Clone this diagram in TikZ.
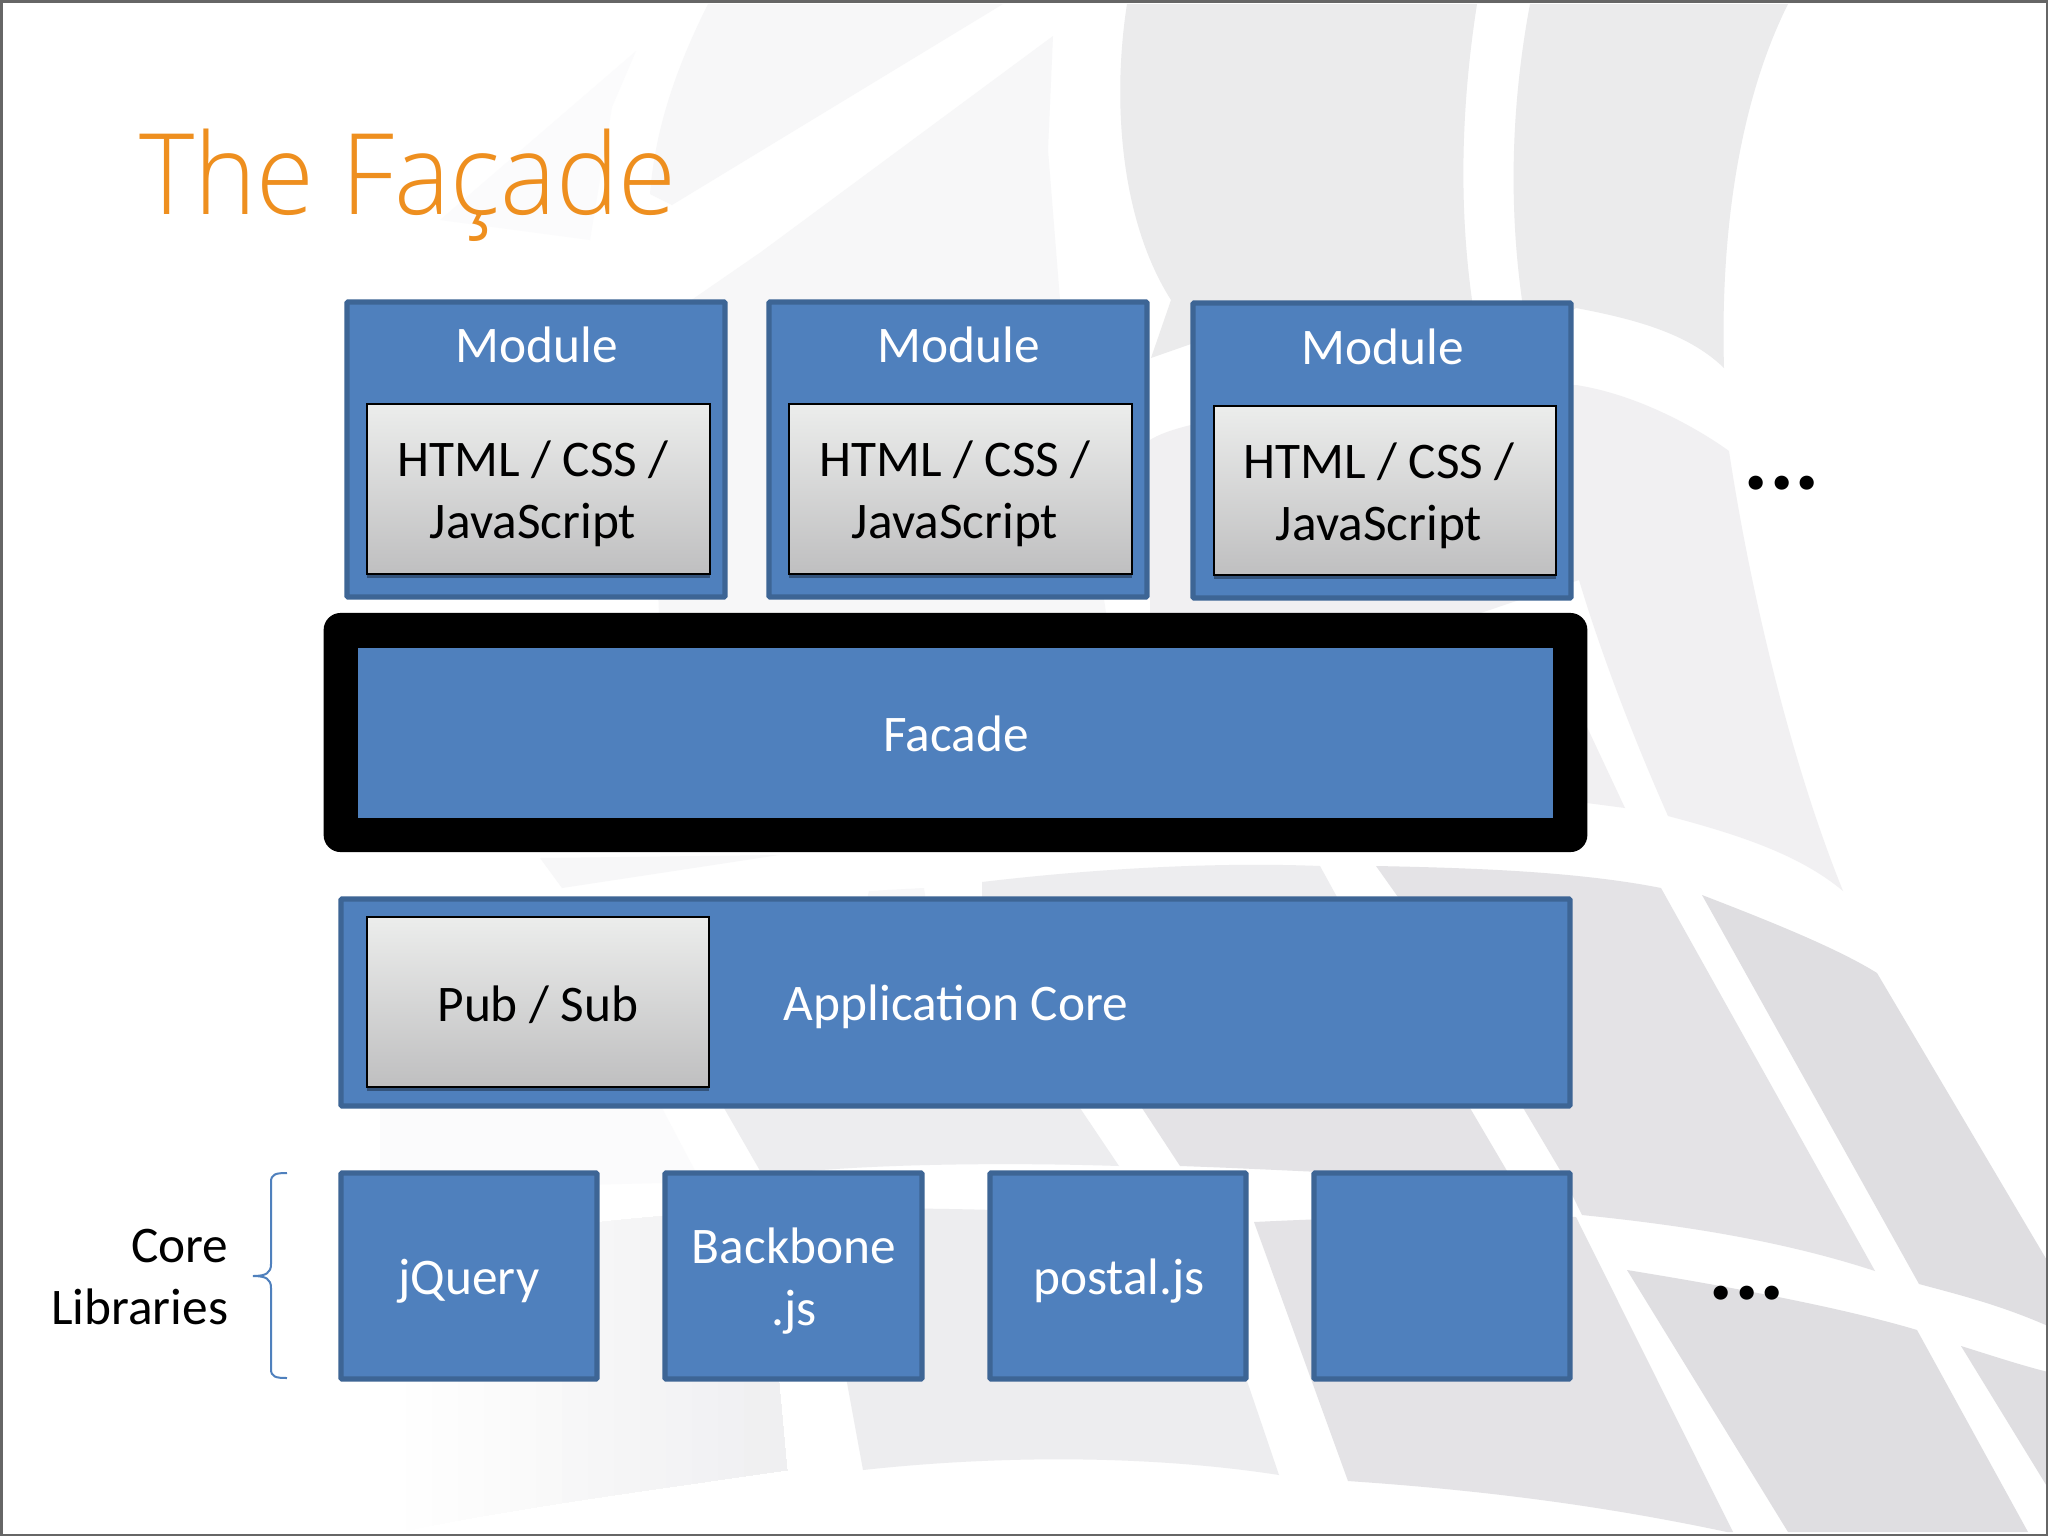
\documentclass[tikz,border=0pt]{standalone}
\usepackage{fontspec}
\setmainfont{Carlito}
\newfontfamily\titlefont{Open Sans Light}
\usetikzlibrary{shadows}
\definecolor{boxblue}{HTML}{4F80BD}
\definecolor{boxedge}{HTML}{3D6595}
\definecolor{titleorange}{HTML}{EE8F1F}
\definecolor{bgA}{HTML}{EBEBEC}
\definecolor{bgB}{HTML}{F1F0F2}
\definecolor{bgC}{HTML}{F7F7F8}
\definecolor{bgD}{HTML}{E4E3E6}
\definecolor{bgE}{HTML}{DFDEE1}
\definecolor{bgF}{HTML}{EDEDEF}
\definecolor{bgG}{HTML}{FBFBFC}
\definecolor{greytop}{HTML}{ECEDEC}
\definecolor{greybot}{HTML}{BFBFC0}
\newcommand{\pxbox}[6]{%
  \node[#1, minimum width={(#4-#2-4)*0.01cm}, minimum height={(#5-#3-4)*0.01cm}] (#6) at ({(#2+#4)/2},{(#3+#5)/2}) {};}
\tikzset{
  bluebox/.style={rectangle, inner sep=0pt, outer sep=0pt, fill=boxblue, draw=boxedge, line width=0.052cm, rounded corners=0.01cm},
  greybox/.style={rectangle, inner sep=0pt, outer sep=0pt, top color=greytop, bottom color=greybot, draw=black, line width=0.025cm,
    drop shadow={shadow xshift=0cm, shadow yshift=-0.04cm, fill=black, opacity=0.35}},
  lightlabel/.style={text=white, font=\fontsize{14.6}{17.6}\selectfont, align=center, inner sep=0pt},
  darklabel/.style={text=black, font=\fontsize{14.6}{17.6}\selectfont, align=center, inner sep=0pt},
  moredots/.style={text=black, font=\fontsize{27}{32}\selectfont\bfseries, inner sep=0pt},
}
\begin{document}
\begin{tikzpicture}[x=0.01cm,y=-0.01cm]
\useasboundingbox (0,0) rectangle (2048,1536);
\fill[white] (0,0) rectangle (2048,1536);
% --- background artwork
\fill[bgG] (636,51) -- (612,107) -- (590,240) -- (440,220) -- cycle;
\fill[bgC] (708,4) -- (1003,4) -- (672,205) -- (650,194) .. controls (655,130) and (675,70) .. cycle;
\fill[bgC] (1053,36) -- (761,252) -- (648,330) -- (660,640) -- (1110,640) -- (1060,300) -- (1048,150) -- cycle;
\fill[bgA] (1127,4) .. controls (1112,100) and (1120,220) .. (1171,300) -- (1151,358) -- (1191,344) -- (1470,350) -- (1472,300) .. controls (1458,200) and (1462,100) .. (1477,4) -- cycle;
\fill[bgA] (1530,4) -- (1788,4) .. controls (1740,100) and (1720,230) .. (1724,368) .. controls (1690,335) and (1640,320) .. (1576,308) -- (1530,340) -- (1522,300) .. controls (1508,200) and (1512,100) .. cycle;
\fill[bgB] (1150,440) .. controls (1180,420) and (1300,400) .. (1576,385) .. controls (1640,395) and (1700,430) .. (1729,451) .. controls (1750,590) and (1790,760) .. (1843,891) .. controls (1800,855) and (1740,835) .. (1668,816) .. controls (1630,730) and (1600,650) .. (1579,580) -- (1400,640) -- (1150,640) -- cycle;
\fill[bgB] (1587,727) -- (1625,808) -- (1587,803) -- cycle;
\fill[bgC] (540,858) -- (779,855) -- (562,888) -- cycle;
\fill[bgC] (869,891) -- (924,888) -- (930,930) -- (860,930) -- cycle;
\fill[bgF] (982,882) .. controls (1100,868) and (1220,862) .. (1320,866) -- (1337,897) -- (982,900) -- cycle;
\fill[bgD] (1376,866) .. controls (1480,868) and (1580,872) .. (1661,888) -- (1875,1271) .. controls (1780,1240) and (1680,1225) .. (1582,1215) -- (1560,1170) -- (1398,897) -- cycle;
\fill[bgE] (1702,895) .. controls (1780,925) and (1840,950) .. (1877,973) -- (2048,1262) -- (2048,1326) .. controls (2000,1305) and (1960,1295) .. (1919,1284) -- cycle;
% row between core and libraries
\fill[bgG] (380,1108) -- (662,1108) -- (701,1182) -- (380,1190) -- cycle;
\fill[bgF] (724,1108) -- (1080,1108) -- (1119,1166) .. controls (1000,1162) and (850,1164) .. (763,1176) -- cycle;
\fill[bgD] (1142,1108) -- (1470,1108) -- (1510,1176) .. controls (1400,1178) and (1300,1170) .. (1180,1166) -- cycle;
% lower row: the leftmost piece fades out towards the left
\begin{scope}
  \clip (380,1256) .. controls (450,1240) and (620,1215) .. (763,1210) -- (787,1470) .. controls (650,1490) and (500,1510) .. (400,1532) -- cycle;
  \foreach \slice in {0,...,16}{
    \pgfmathsetmacro{\sliceshade}{\slice*6}
    \fill[bgF!\sliceshade!white] ({380+\slice*26},1200) rectangle (800,1536);
  }
\end{scope}
\fill[bgF] (815,1208) .. controls (950,1208) and (1080,1210) .. (1193,1222) -- (1279,1475) .. controls (1150,1455) and (1000,1455) .. (863,1470) -- cycle;
\fill[bgD] (1254,1222) .. controls (1400,1215) and (1500,1215) .. (1576,1217) -- (1733,1532) -- (1727,1532) .. controls (1600,1505) and (1480,1490) .. (1348,1481) -- cycle;
\fill[bgE] (1627,1270) .. controls (1750,1290) and (1850,1310) .. (1917,1330) -- (2028,1532) -- (1788,1532) -- cycle;
\fill[bgE] (1961,1346) .. controls (1990,1355) and (2020,1365) .. (2048,1372) -- (2048,1488) -- cycle;
% --- slide frame
\draw[black!60, line width=0.03cm] (1,1.5) rectangle (2047,1535);
% --- title
\node[text=titleorange, font=\titlefont\fontsize{32}{38}\selectfont, anchor=base west, inner sep=0pt, xscale=0.935] (title) at (139,214) {The Façade};
% --- modules
\pxbox{bluebox}{345}{300}{727}{599}{mod1}
\pxbox{bluebox}{767}{300}{1149}{599}{mod2}
\pxbox{bluebox}{1191}{301}{1573}{600}{mod3}
\pxbox{greybox}{365}{402}{712}{576}{tech1}
\pxbox{greybox}{787}{402}{1134}{576}{tech2}
\pxbox{greybox}{1212}{404}{1558}{577}{tech3}
\node[lightlabel] (m1t) at (537,345) {Module};
\node[lightlabel] (m2t) at (959,345) {Module};
\node[lightlabel] (m3t) at (1383,347) {Module};
\node[darklabel] (t1t) at (533,494) {HTML / CSS /\\JavaScript};
\node[darklabel] (t2t) at (955,494) {HTML / CSS /\\JavaScript};
\node[darklabel] (t3t) at (1379,496) {HTML / CSS /\\JavaScript};
\node[moredots] (moredotsA) at (1782,483) {...};
% --- facade
\node[rectangle, fill=black, rounded corners=0.17cm, inner sep=0pt, minimum width=12.63cm, minimum height=2.39cm] (facadeframe) at (955.5,732.5) {};
\node[rectangle, fill=boxblue, inner sep=0pt, minimum width=11.95cm, minimum height=1.70cm] (facade) at (955.5,733) {};
\node[lightlabel] (facadet) at (956,734) {Facade};
% --- application core
\pxbox{bluebox}{339}{897}{1572}{1108}{core}
\pxbox{greybox}{365}{915}{711}{1089}{pubsub}
\node[darklabel] (pubsubt) at (538,1005) {Pub / Sub};
\node[lightlabel] (coret) at (956,1007) {Application Core};
% --- libraries
\pxbox{bluebox}{339}{1171}{599}{1381}{lib1}
\pxbox{bluebox}{663}{1171}{924}{1381}{lib2}
\pxbox{bluebox}{988}{1171}{1248}{1381}{lib3}
\pxbox{bluebox}{1312}{1171}{1572}{1381}{lib4}
\node[lightlabel] (lib1t) at (469,1281) {jQuery};
\node[lightlabel] (lib2t) at (794,1281) {Backbone\\.js};
\node[lightlabel] (lib3t) at (1119,1281) {postal.js};
\node[moredots] (moredotsB) at (1747,1293) {...};
\node[darklabel, align=right, anchor=east] (corelibs) at (229,1277) {Core\\Libraries};
% --- brace
\draw[boxblue, line width=0.02cm] (287,1173) .. controls (276,1173) and (271,1174) .. (271,1182) -- (271,1264)
  .. controls (271,1273) and (266,1276) .. (253,1276) .. controls (266,1276) and (271,1279) .. (271,1288) -- (271,1369)
  .. controls (271,1377) and (276,1378) .. (287,1378);
\end{tikzpicture}
\end{document}
